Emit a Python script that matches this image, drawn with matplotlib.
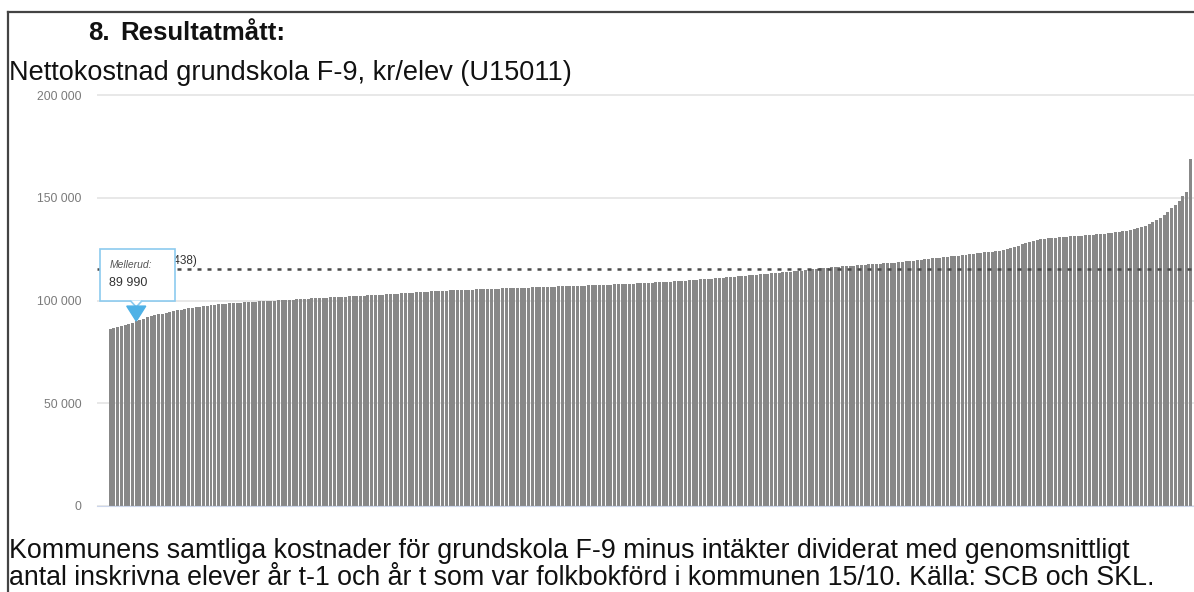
import numpy as np
import matplotlib.pyplot as plt
from matplotlib.patches import Polygon, Rectangle
from matplotlib.lines import Line2D
from matplotlib.transforms import IdentityTransform

# Nettokostnad grundskola F-9 per kommun, tusen kr/elev (sorterat stigande)
kostnad_tkr = [
    86.0, 86.4, 86.9, 87.5, 88.0, 88.6, 89.3, 89.99, 90.6, 91.2,
    91.8, 92.3, 92.8, 93.2, 93.6, 94.0, 94.4, 94.8, 95.2, 95.6,
    95.9, 96.2, 96.5, 96.8, 97.0, 97.3, 97.5, 97.7, 97.9, 98.1,
    98.3, 98.5, 98.6, 98.8, 98.9, 99.0, 99.1, 99.3, 99.4, 99.5,
    99.6, 99.7, 99.8, 99.9, 100.0, 100.1, 100.2, 100.3, 100.4, 100.5,
    100.6, 100.7, 100.8, 100.9, 101.0, 101.1, 101.2, 101.3, 101.4, 101.5,
    101.6, 101.7, 101.8, 101.9, 102.0, 102.1, 102.2, 102.3, 102.4, 102.5,
    102.6, 102.7, 102.8, 102.9, 103.0, 103.1, 103.2, 103.4, 103.6, 103.7,
    103.8, 103.9, 104.0, 104.1, 104.2, 104.3, 104.4, 104.5, 104.6, 104.7,
    104.8, 104.9, 105.0, 105.0, 105.1, 105.2, 105.3, 105.3, 105.4, 105.5,
    105.5, 105.6, 105.7, 105.7, 105.8, 105.9, 105.9, 106.0, 106.1, 106.1,
    106.2, 106.3, 106.3, 106.4, 106.5, 106.5, 106.6, 106.7, 106.7, 106.8,
    106.9, 106.9, 107.0, 107.1, 107.1, 107.2, 107.3, 107.3, 107.4, 107.5,
    107.5, 107.6, 107.7, 107.7, 107.8, 107.9, 107.9, 108.0, 108.1, 108.1,
    108.2, 108.3, 108.4, 108.5, 108.6, 108.7, 108.8, 108.9, 109.0, 109.1,
    109.2, 109.3, 109.5, 109.6, 109.7, 109.9, 110.0, 110.1, 110.3, 110.4,
    110.6, 110.7, 110.9, 111.0, 111.2, 111.3, 111.5, 111.6, 111.8, 111.9,
    112.1, 112.3, 112.4, 112.6, 112.8, 113.0, 113.1, 113.3, 113.5, 113.6,
    113.8, 114.0, 114.1, 114.3, 114.5, 114.6, 114.8, 115.0, 115.2, 115.4,
    115.6, 115.8, 116.0, 116.1, 116.3, 116.5, 116.6, 116.8, 116.9, 117.0,
    117.1, 117.3, 117.4, 117.6, 117.7, 117.9, 118.0, 118.1, 118.3, 118.4,
    118.5, 118.6, 118.8, 119.0, 119.2, 119.4, 119.6, 119.8, 120.0, 120.3,
    120.5, 120.7, 120.9, 121.1, 121.3, 121.5, 121.7, 121.9, 122.1, 122.3,
    122.5, 122.7, 122.9, 123.2, 123.4, 123.6, 123.8, 124.0, 124.3, 124.6,
    125.0, 125.5, 126.0, 126.6, 127.3, 128.0, 128.6, 129.1, 129.5, 129.8,
    130.0, 130.2, 130.4, 130.6, 130.7, 130.9, 131.0, 131.2, 131.3, 131.5,
    131.6, 131.8, 131.9, 132.1, 132.2, 132.4, 132.6, 132.8, 133.0, 133.2,
    133.4, 133.7, 134.0, 134.3, 134.7, 135.2, 135.8, 136.5, 137.3, 138.0,
    139.0, 140.0, 141.5, 143.0, 144.8, 146.5, 148.5, 151.0, 153.0, 169.0,
]
riket = 115438
riket_text = "Riket (115 438)"
mellerud_idx = 7
mellerud_text = "Mellerud:"
mellerud_varde = "89 990"
y_ticks = [0, 50000, 100000, 150000, 200000]
y_ticklabels = ["0", "50 000", "100 000", "150 000", "200 000"]

rubrik_nr = "8."
rubrik = "Resultatmått:"
underrubrik = "Nettokostnad grundskola F-9, kr/elev (U15011)"
fotnot1 = ("Kommunens samtliga kostnader för grundskola F-9 minus intäkter "
           "dividerat med genomsnittligt")
fotnot2 = ("antal inskrivna elever år t-1 och år t som var folkbokförd i "
           "kommunen 15/10. Källa: SCB och SKL.")

values = np.array(kostnad_tkr) * 1000
x = np.arange(len(values))

W, H = 1194, 592
fig = plt.figure(figsize=(W / 100, H / 100), dpi=100, facecolor="white")
plt.rcParams["font.family"] = ["Liberation Sans", "DejaVu Sans"]

ax = fig.add_axes([97 / W, 1 - 506 / H, 1097 / W, (506 - 93) / H])
ax.bar(x, values, width=0.8, color="#888888", zorder=2)
ax.axhline(riket, color="#4a4a4a", lw=1.8, ls=(0, (1.6, 2.4)), zorder=3)
ax.set_xlim(-3.5, len(values))
ax.set_ylim(0, 201000)
ax.set_yticks(y_ticks)
ax.set_yticklabels(y_ticklabels, fontsize=8.8, color="#7a7a7a")
ax.tick_params(axis="y", length=0, pad=11)
ax.set_xticks([])
ax.yaxis.grid(True, color="#e8e8e8", lw=1.4, zorder=0)
ax.set_axisbelow(True)
for s in ["top", "right", "left"]:
    ax.spines[s].set_visible(False)
ax.spines["bottom"].set_color("#ccd6eb")
ax.spines["bottom"].set_zorder(3)

# Riket-etikett (delvis dold bakom tooltip)
fig.text(197 / W, (H - 261) / H, riket_text, ha="right", va="center",
         fontsize=8.5, color="#333333")

# Tooltip för Mellerud
fig.canvas.draw()
px, py = ax.transData.transform((x[mellerud_idx], values[mellerud_idx]))
ident = IdentityTransform()
blue = "#4eb1e6"
fig.add_artist(Polygon([(px, py), (px - 9.5, py + 15), (px + 9.5, py + 15)],
                       closed=True, facecolor=blue, edgecolor=blue,
                       transform=ident, zorder=6))
fig.add_artist(Rectangle((px - 36, py + 20), 75, 52, facecolor="white",
                         edgecolor="#8ccbef", lw=1.2, transform=ident, zorder=5))
fig.add_artist(Polygon([(px - 6, py + 20.6), (px, py + 14), (px + 6, py + 20.6)],
                       closed=False, facecolor="white", edgecolor="#8ccbef",
                       lw=1.2, transform=ident, zorder=5))
fig.text((px - 27) / W, (py + 56) / H, mellerud_text, ha="left", va="center",
         fontsize=7.5, style="italic", color="#555555", zorder=7)
fig.text((px - 27) / W, (py + 38) / H, mellerud_varde, ha="left", va="center",
         fontsize=9, color="#333333", zorder=7)

# Rubriker
fig.text(88 / W, (H - 33) / H, rubrik_nr, ha="left", va="center",
         fontsize=18.5, fontweight="bold", color="#111111")
fig.text(120 / W, (H - 33) / H, rubrik, ha="left", va="center",
         fontsize=18.5, fontweight="bold", color="#111111")
fig.text(9 / W, (H - 73) / H, underrubrik, ha="left", va="center",
         fontsize=19.5, color="#111111")
fig.text(9 / W, (H - 551) / H, fotnot1, ha="left", va="center",
         fontsize=19.3, color="#111111")
fig.text(9 / W, (H - 578) / H, fotnot2, ha="left", va="center",
         fontsize=19.3, color="#111111")

# Ram
fig.add_artist(Line2D([7.5 / W, 7.5 / W], [0, (H - 12) / H], color="#444444", lw=1.6))
fig.add_artist(Line2D([7.5 / W, 1], [(H - 12) / H, (H - 12) / H], color="#444444", lw=1.6))

plt.savefig("out.png", dpi=100, facecolor="white")
